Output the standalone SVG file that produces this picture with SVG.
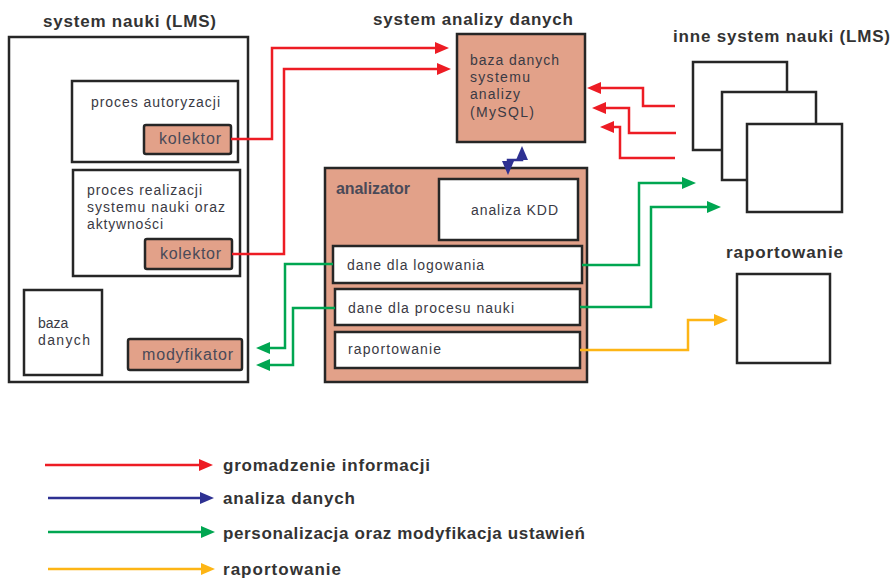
<svg xmlns="http://www.w3.org/2000/svg" width="894" height="580" viewBox="0 0 894 580">
<defs>
<style>
.box{fill:#fff;stroke:#262626;stroke-width:2.5}
.sal{fill:#E2A189;stroke:#262626;stroke-width:2.5}
.t{font-family:"Liberation Sans",Arial,sans-serif;font-size:14px;fill:#3a3a44}
.tb{font-family:"Liberation Sans",Arial,sans-serif;font-size:17px;font-weight:bold;fill:#333}
.tk{font-family:"Liberation Sans",Arial,sans-serif;font-size:16px;fill:#4a4a58}
.c{fill:none;stroke-width:2.5}
.red{stroke:#ED1C24}.blue{stroke:#2E3192}.green{stroke:#00A651}.orange{stroke:#FDB515}
</style>
<marker id="aR" viewBox="0 0 14 12" refX="8" refY="6" markerWidth="14" markerHeight="12" markerUnits="userSpaceOnUse" orient="auto"><path d="M0,0L14,6L0,12z" fill="#ED1C24"/></marker>
<marker id="aB" viewBox="0 0 14 12" refX="8" refY="6" markerWidth="14" markerHeight="12" markerUnits="userSpaceOnUse" orient="auto-start-reverse"><path d="M0,0L14,6L0,12z" fill="#2E3192"/></marker>
<marker id="aG" viewBox="0 0 14 12" refX="8" refY="6" markerWidth="14" markerHeight="12" markerUnits="userSpaceOnUse" orient="auto"><path d="M0,0L14,6L0,12z" fill="#00A651"/></marker>
<marker id="aO" viewBox="0 0 14 12" refX="8" refY="6" markerWidth="14" markerHeight="12" markerUnits="userSpaceOnUse" orient="auto"><path d="M0,0L14,6L0,12z" fill="#FDB515"/></marker>
</defs>
<rect width="894" height="580" fill="#fff"/>

<g id="lms">
<text class="tb" x="43" y="27" textLength="173">system nauki (LMS)</text>
<rect class="box" x="9" y="37" width="239" height="345"/>
</g>
<g id="autoryzacja">
<rect class="box" x="72" y="81" width="166" height="81"/>
<text class="t" x="91" y="107" textLength="129">proces autoryzacji</text>
</g>
<g id="kolektor1">
<rect class="sal" x="144" y="125" width="87" height="29" rx="2"/>
<text class="tk" x="159" y="144" textLength="62">kolektor</text>
</g>
<g id="realizacja">
<rect class="box" x="73" y="170" width="167" height="106"/>
<text class="t" x="87" y="195" textLength="115">proces realizacji</text>
<text class="t" x="87" y="212" textLength="138">systemu nauki oraz</text>
<text class="t" x="87" y="229" textLength="76">aktywności</text>
</g>
<g id="kolektor2">
<rect class="sal" x="145" y="239" width="87" height="30" rx="2"/>
<text class="tk" x="160" y="259" textLength="61">kolektor</text>
</g>
<g id="baza">
<rect class="box" x="24" y="290" width="78" height="85"/>
<text class="t" x="38" y="328">baza</text>
<text class="t" x="38" y="345" textLength="52">danych</text>
</g>
<g id="modyfikator">
<rect class="sal" x="128" y="339" width="114" height="31" rx="2"/>
<text class="tk" x="142" y="360" textLength="91">modyfikator</text>
</g>

<g id="sad">
<text class="tb" x="373" y="25" textLength="200">system analizy danych</text>
</g>
<g id="bazaMySQL">
<rect class="sal" x="457" y="34" width="128" height="108"/>
<text class="t" x="470" y="65" textLength="89">baza danych</text>
<text class="t" x="470" y="82" textLength="60">systemu</text>
<text class="t" x="470" y="99" textLength="50">analizy</text>
<text class="t" x="470" y="117" textLength="64">(MySQL)</text>
</g>
<g id="analizator">
<rect class="sal" x="325" y="168" width="262" height="214"/>
<text class="tk" x="336" y="194" textLength="74" font-weight="bold" fill="#5a5a6a">analizator</text>
</g>
<g id="kdd">
<rect class="box" x="439" y="179" width="139" height="61"/>
<text class="t" x="471" y="215" textLength="87">analiza KDD</text>
</g>
<g id="logowanie">
<rect class="box" x="333" y="246" width="249" height="37"/>
<text class="t" x="347" y="270" textLength="137">dane dla logowania</text>
</g>
<g id="procesNauki">
<rect class="box" x="335" y="289" width="245" height="36"/>
<text class="t" x="348" y="313" textLength="166">dane dla procesu nauki</text>
</g>
<g id="raportAnal">
<rect class="box" x="335" y="332" width="245" height="36"/>
<text class="t" x="348" y="354" textLength="93">raportowanie</text>
</g>

<g id="inne">
<text class="tb" x="673" y="42" textLength="217">inne system nauki (LMS)</text>
<rect class="box" x="693" y="62" width="94" height="88"/>
<rect class="box" x="722" y="92" width="94" height="88"/>
<rect class="box" x="747" y="124" width="95" height="88"/>
</g>
<g id="raportowanie">
<text class="tb" x="726" y="258" textLength="117">raportowanie</text>
<rect class="box" x="737" y="274" width="93" height="89"/>
</g>

<g id="connectors">
<path class="c red" d="M231,139H272V48H443" marker-end="url(#aR)"/>
<path class="c red" d="M232,254H284V69H445" marker-end="url(#aR)"/>
<path class="c red" d="M675,106H643V88H593" marker-end="url(#aR)"/>
<path class="c red" d="M676,133H629V108H598" marker-end="url(#aR)"/>
<path class="c red" d="M675,158H620V127H606" marker-end="url(#aR)"/>
<path class="c blue" d="M522,152V160H508V169" marker-start="url(#aB)" marker-end="url(#aB)"/>
<path class="c green" d="M582,265H639V183H690" marker-end="url(#aG)"/>
<path class="c green" d="M580,307H651V207H715" marker-end="url(#aG)"/>
<path class="c green" d="M333,264H285V348H262" marker-end="url(#aG)"/>
<path class="c green" d="M335,308H293V365H262" marker-end="url(#aG)"/>
<path class="c orange" d="M580,350H688V320H722" marker-end="url(#aO)"/>
</g>

<g id="legend">
<path class="c red" d="M45,465H207" marker-end="url(#aR)"/>
<path class="c blue" d="M48,498H208" marker-end="url(#aB)"/>
<path class="c green" d="M48,532H209" marker-end="url(#aG)"/>
<path class="c orange" d="M48,569H209" marker-end="url(#aO)"/>
<text class="tb" x="223" y="471" textLength="207">gromadzenie informacji</text>
<text class="tb" x="223" y="504" textLength="132">analiza danych</text>
<text class="tb" x="223" y="539" textLength="362">personalizacja oraz modyfikacja ustawień</text>
<text class="tb" x="223" y="575" textLength="118">raportowanie</text>
</g>
</svg>
